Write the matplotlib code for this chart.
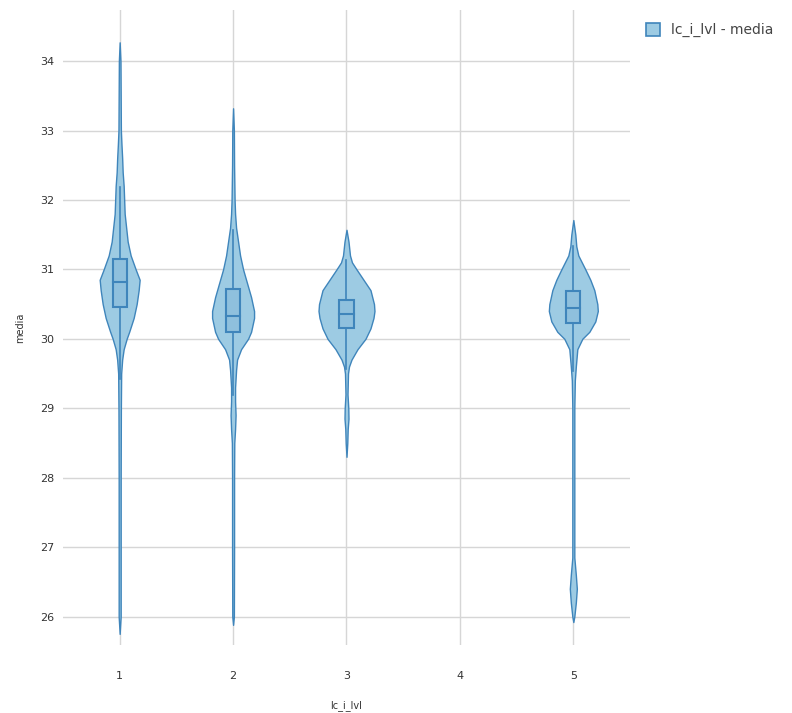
import matplotlib.pyplot as plt
from matplotlib.patches import Patch, Rectangle

# categories on the x axis
levels = [1, 2, 3, 5]

# violin outlines: value -> relative density (half width)
v1_y = [34.27, 34.0, 33.5, 33.0, 32.8, 32.6, 32.4, 32.2, 32.0, 31.8, 31.6, 31.4, 31.2, 31.0,
        30.85, 30.7, 30.5, 30.3, 30.1, 30.0, 29.85, 29.7, 29.5, 29.0, 28.0, 27.0, 26.0, 25.75]
v1_d = [0, 0.8, 1, 1.2, 1.8, 2.5, 3, 4, 4.5, 5, 6.5, 8, 11, 16,
        20, 19, 17, 14, 9.5, 7, 4, 2.5, 1.5, 1.2, 1, 1, 1, 0]

v2_y = [33.32, 33.0, 32.5, 32.0, 31.8, 31.6, 31.4, 31.2, 31.0, 30.8, 30.6, 30.4, 30.3, 30.1,
        30.0, 29.85, 29.7, 29.55, 29.3, 29.1, 28.9, 28.7, 28.5, 28.0, 27.0, 26.0, 25.88]
v2_d = [0, 0.8, 1, 1.5, 2, 3, 5, 7, 10, 14, 18, 21, 21, 18,
        15, 8, 4, 3, 2, 2, 2.5, 2, 1.2, 1, 1, 0.8, 0]

v3_y = [31.57, 31.4, 31.2, 31.1, 31.0, 30.85, 30.7, 30.5, 30.4, 30.3, 30.15, 30.0, 29.85,
        29.7, 29.6, 29.5, 29.2, 29.0, 28.85, 28.7, 28.5, 28.3]
v3_d = [0, 2, 3.5, 5.5, 10, 17, 24, 27.5, 28, 27, 24, 19, 11,
        5, 2.5, 1.5, 1, 1.8, 2, 1.2, 0.8, 0]

v5_y = [31.71, 31.5, 31.33, 31.2, 31.0, 30.85, 30.7, 30.5, 30.4, 30.25, 30.1, 30.0, 29.85,
        29.6, 29.4, 29.0, 28.0, 27.0, 26.85, 26.6, 26.4, 26.2, 26.0, 25.92]
v5_d = [0, 2, 3, 5, 12, 17, 21, 24, 24.5, 22, 16, 9, 4,
        2.5, 1.5, 1, 1, 1, 1, 2.5, 3.5, 2.5, 1, 0]

# box stats: lower whisker, q1, median, q3, upper whisker
whisk_lo = [29.42, 29.19, 29.56, 29.54]
q1 = [30.46, 30.10, 30.16, 30.23]
median = [30.82, 30.33, 30.35, 30.45]
q3 = [31.15, 30.71, 30.56, 30.69]
whisk_hi = [32.19, 31.57, 31.14, 31.33]

profiles = [(v1_y, v1_d), (v2_y, v2_d), (v3_y, v3_d), (v5_y, v5_d)]

line_color = '#3f85bb'
fill_color = '#9dcbe3'

fig = plt.figure(figsize=(7.92, 7.13), dpi=100)
ax = fig.add_axes([0.0795, 0.0954, 0.716, 0.891])

scale = 1 / 113.5  # density unit -> x units
box_half = 0.062

for x, (ys, ds), lo, a, m, b, hi in zip(levels, profiles, whisk_lo, q1, median, q3, whisk_hi):
    left = [x - d * scale for d in ds]
    right = [x + d * scale for d in ds]
    ax.fill_betweenx(ys, left, right, facecolor=fill_color, edgecolor=line_color,
                     linewidth=1.0, zorder=3)
    # whiskers
    ax.plot([x, x], [lo, a], color=line_color, lw=1.2, zorder=4)
    ax.plot([x, x], [b, hi], color=line_color, lw=1.2, zorder=4)
    # box
    ax.add_patch(Rectangle((x - box_half, a), 2 * box_half, b - a, facecolor='#8fc0dd',
                           edgecolor=line_color, linewidth=1.5, zorder=4))
    ax.plot([x - box_half, x + box_half], [m, m], color=line_color, lw=1.5, zorder=5)

ax.set_xlim(0.5, 5.5)
ax.set_ylim(25.59, 34.74)
ax.set_xticks([1, 2, 3, 4, 5])
ax.set_yticks([26, 27, 28, 29, 30, 31, 32, 33, 34])
ax.grid(True, color='#d6d6d6', linewidth=1.0)
ax.set_axisbelow(True)
for s in ax.spines.values():
    s.set_visible(False)
ax.tick_params(length=0, labelsize=8, colors='#333333')
ax.tick_params(axis='x', pad=19)
ax.tick_params(axis='y', pad=6)
ax.set_xlabel('lc_i_lvl', fontsize=7, color='#333333')
ax.set_ylabel('media', fontsize=7, color='#333333')
ax.xaxis.set_label_coords(0.5, -0.087)
ax.yaxis.set_label_coords(-0.066, 0.5)

handle = Patch(facecolor=fill_color, edgecolor=line_color, linewidth=1.2)
fig.legend([handle], ['lc_i_lvl - media'], loc='upper left', bbox_to_anchor=(0.8, 0.985),
           frameon=False, fontsize=10, labelcolor='#444444', handlelength=1.0, handleheight=1.0)

fig.savefig('out.png', dpi=100)
